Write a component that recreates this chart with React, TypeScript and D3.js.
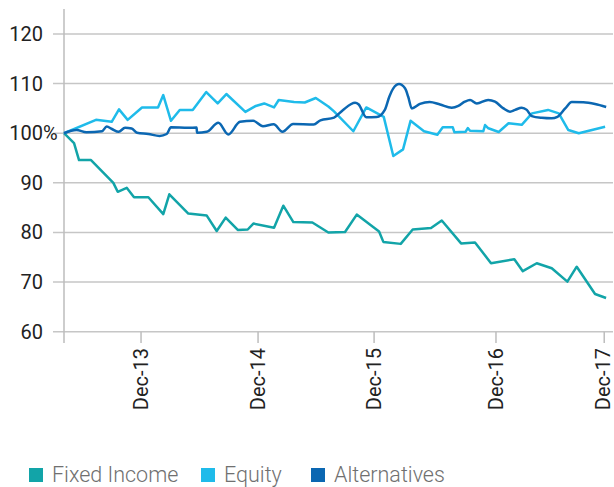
import React from 'react';
import * as d3 from 'd3';

// x values are months since the start of the series (start is ~8 months before Dec-13)
const fixedIncomeMonths = [0, 1.03, 1.54, 2.77, 5.06, 5.51, 6.43, 7.18, 8.65, 10.18, 10.8, 12.75, 14.64, 15.66, 16.58, 17.82, 18.84, 19.42, 21.54, 22.49, 23.52, 25.47, 27.11, 28.82, 30.02, 32.31, 32.75, 34.53, 35.76, 37.64, 38.74, 40.72, 42.15, 43.79, 46.18, 47.05, 48.48, 50.02, 51.62, 52.58, 54.46, 55.59];
const fixedIncomeValues = [100, 98.0, 94.6, 94.6, 90.0, 88.2, 89.0, 87.1, 87.1, 83.7, 87.7, 83.8, 83.4, 80.3, 83.0, 80.5, 80.6, 81.8, 80.95, 85.4, 82.1, 82.0, 80.0, 80.1, 83.6, 80.2, 78.1, 77.7, 80.6, 80.9, 82.4, 77.8, 78.0, 73.8, 74.6, 72.2, 73.8, 72.8, 70.1, 73.1, 67.6, 66.8];

const equityMonths = [0, 3.28, 4.89, 5.64, 6.53, 8.0, 9.64, 10.18, 10.97, 11.87, 13.2, 14.59, 15.76, 16.65, 18.6, 19.67, 20.53, 21.54, 22.02, 23.59, 24.69, 25.82, 27.11, 27.69, 29.67, 31.0, 32.79, 33.77, 34.77, 35.54, 36.92, 38.29, 38.84, 39.87, 40.03, 41.18, 41.41, 41.64, 43.0, 43.18, 43.52, 44.58, 45.59, 46.94, 47.99, 49.64, 50.74, 51.72, 52.79, 55.49];
const equityValues = [100, 102.7, 102.3, 104.8, 102.7, 105.2, 105.2, 107.7, 102.5, 104.7, 104.7, 108.3, 106.0, 107.9, 104.3, 105.5, 106.0, 105.2, 106.7, 106.3, 106.2, 107.1, 105.4, 104.4, 100.4, 105.2, 103.3, 95.4, 96.75, 102.5, 100.4, 99.7, 101.2, 101.2, 100.2, 100.3, 101.05, 100.5, 100.4, 101.65, 101.0, 100.25, 102.0, 101.7, 104.0, 104.7, 104.0, 100.65, 100.0, 101.3];

const alternativesMonths = [0, 1.28, 2.31, 3.9, 4.38, 4.92, 5.61, 6.26, 6.94, 7.49, 8.65, 9.8, 10.53, 10.97, 12.75, 13.6, 13.64, 14.64, 15.83, 16.85, 18.05, 19.4, 20.4, 21.5, 22.4, 23.5, 25.6, 26.3, 27.7, 28.56, 29.85, 30.2, 31.0, 32.07, 32.9, 33.36, 33.77, 34.36, 34.97, 35.3, 35.66, 36.5, 37.5, 38.56, 39.76, 40.44, 41.1, 41.64, 42.33, 43.5, 44.2, 45.06, 45.74, 46.26, 46.94, 47.46, 47.97, 49.0, 50.0, 50.6, 51.4, 52.07, 53.26, 54.46, 55.6];
const alternativesValues = [100, 100.65, 100.2, 100.4, 101.35, 100.85, 100.3, 101.1, 100.95, 100.1, 99.85, 99.45, 99.85, 101.2, 101.1, 101.15, 100.1, 100.3, 102.1, 99.75, 102.3, 102.5, 101.4, 101.8, 100.3, 101.85, 101.75, 102.6, 103.15, 104.6, 106.15, 105.85, 103.2, 103.25, 104.7, 107.35, 109.05, 109.9, 109.05, 107.35, 105.0, 105.9, 106.3, 105.8, 105.15, 105.5, 106.35, 106.7, 106.0, 106.7, 106.35, 105.0, 104.35, 104.7, 105.15, 104.7, 103.45, 103.1, 103.0, 103.3, 105.0, 106.3, 106.25, 105.9, 105.3];

const xTickMonths = [7.9, 19.9, 31.8, 44.3, 55.4];
const xTickLabels = ['Dec-13', 'Dec-14', 'Dec-15', 'Dec-16', 'Dec-17'];
const yTicks = [60, 70, 80, 90, 100, 110, 120];

const seriesNames = ['Fixed Income', 'Equity', 'Alternatives'];
const seriesColors = ['#12a4a8', '#1fbbea', '#0b67b2'];

const W = 614;
const H = 487;

const App = () => {
    const x = d3.scaleLinear().domain([0, 56.3]).range([64, 613]);
    const y = d3.scaleLinear().domain([60, 120]).range([331.7, 34]);

    const zip = (ms: number[], vs: number[]) => ms.map((m, i) => [m, vs[i]] as [number, number]);
    const series = [
        zip(fixedIncomeMonths, fixedIncomeValues),
        zip(equityMonths, equityValues),
        zip(alternativesMonths, alternativesValues),
    ];

    const straight = d3.line<[number, number]>().x(d => x(d[0])).y(d => y(d[1]));
    const smooth = d3.line<[number, number]>().x(d => x(d[0])).y(d => y(d[1])).curve(d3.curveMonotoneX);

    const gridColor = '#c6c6c6';
    const font = 'Roboto, "Liberation Sans", Arial, sans-serif';
    const legendX = [29, 201, 311];

    return (
        <svg width={W} height={H} style={{ position: 'absolute', left: 0, top: 0, background: '#fff' }}>
            {/* gridlines + y labels */}
            {yTicks.map(t => (
                <g key={t}>
                    <line x1={53} x2={613} y1={y(t)} y2={y(t)} stroke={gridColor} strokeWidth={1.5} />
                    <text x={43} y={y(t)} dy="0.35em" textAnchor="end" fontFamily={font} fontSize={20} fill="#222">
                        {t}
                    </text>
                    {t === 100 && (
                        <text x={43} y={y(t)} dy="0.35em" textAnchor="start" fontFamily={font} fontSize={20} fill="#222">%</text>
                    )}
                </g>
            ))}
            {/* y axis line */}
            <line x1={64} x2={64} y1={9} y2={343} stroke="#bdbdbd" strokeWidth={1.5} />
            {/* x ticks + labels */}
            {xTickMonths.map((m, i) => (
                <g key={m}>
                    <line x1={x(m)} x2={x(m)} y1={y(60)} y2={343} stroke="#bdbdbd" strokeWidth={1.5} />
                    <text
                        transform={`translate(${Math.min(x(m), 603)},348) rotate(-90)`}
                        dy="0.33em"
                        textAnchor="end"
                        fontFamily={font}
                        fontSize={20}
                        fill="#222"
                    >
                        {xTickLabels[i]}
                    </text>
                </g>
            ))}
            {/* lines */}
            {series.map((s, i) => (
                <path
                    key={seriesNames[i]}
                    d={(i === 2 ? smooth(s) : straight(s)) || ''}
                    fill="none"
                    stroke={seriesColors[i]}
                    strokeWidth={2.5}
                    strokeLinejoin="round"
                />
            ))}
            {/* legend */}
            {seriesNames.map((n, i) => (
                <g key={n} transform={`translate(${legendX[i]},468)`}>
                    <rect x={0} y={0} width={14} height={14} fill={seriesColors[i]} />
                    <text x={23} y={14} fontFamily={font} fontWeight={300} fontSize={21.5} fill="#707070">
                        {n}
                    </text>
                </g>
            ))}
        </svg>
    );
};

export default App;
